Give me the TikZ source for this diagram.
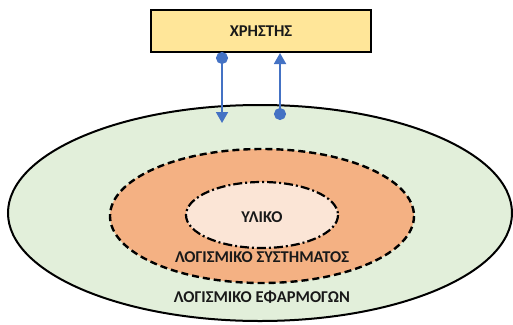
\documentclass[tikz,border=0pt]{standalone}
\usepackage{fontspec}
\setmainfont{Carlito}
\usetikzlibrary{arrows.meta}
\definecolor{outerfill}{HTML}{E2EFDA}
\definecolor{midfill}{HTML}{F4B183}
\definecolor{innerfill}{HTML}{FBE5D6}
\definecolor{boxfill}{HTML}{FFE699}
\definecolor{arrowblue}{HTML}{4472C4}
\tikzset{
  lbl/.style={font=\bfseries\fontsize{16.5}{19}\selectfont, text=black!90},
  conn/.style={draw=arrowblue, line width=1.8pt},
}
\begin{document}
\begin{tikzpicture}[x=1pt,y=-1pt]
\useasboundingbox (0,0) rectangle (513,324);
% outer
\path[fill=outerfill, draw=black, line width=2pt] (260,213) ellipse [x radius=252, y radius=108];
\path[fill=midfill, draw=black, line width=2.4pt, dash pattern=on 7pt off 4pt] (262,216) ellipse [x radius=152, y radius=67];
\path[fill=innerfill, draw=black, line width=2.2pt, dash pattern=on 9pt off 3pt on 2pt off 3pt] (262,215) ellipse [x radius=76, y radius=33];
\node[lbl] (hw) at (262,217) {ΥΛΙΚΟ};
\node[lbl] (sys) at (262,257) {ΛΟΓΙΣΜΙΚΟ ΣΥΣΤΗΜΑΤΟΣ};
\node[lbl] (app) at (262,297) {ΛΟΓΙΣΜΙΚΟ ΕΦΑΡΜΟΓΩΝ};
\node[lbl, draw=black, fill=boxfill, line width=2pt, minimum width=220pt, minimum height=42pt, inner sep=0pt] (user) at (261,31) {ΧΡΗΣΤΗΣ};
\coordinate (a1s) at (222,58);
\coordinate (a1e) at (222,123);
\coordinate (a2s) at (280,114);
\coordinate (a2e) at (280,53);
\draw[conn, {Circle[length=12pt,sep=-6pt]}-{Triangle[length=11pt,width=12pt]}] (a1s) -- (a1e);
\draw[conn, {Circle[length=12pt,sep=-6pt]}-{Triangle[length=11pt,width=12pt]}] (a2s) -- (a2e);
\end{tikzpicture}
\end{document}
